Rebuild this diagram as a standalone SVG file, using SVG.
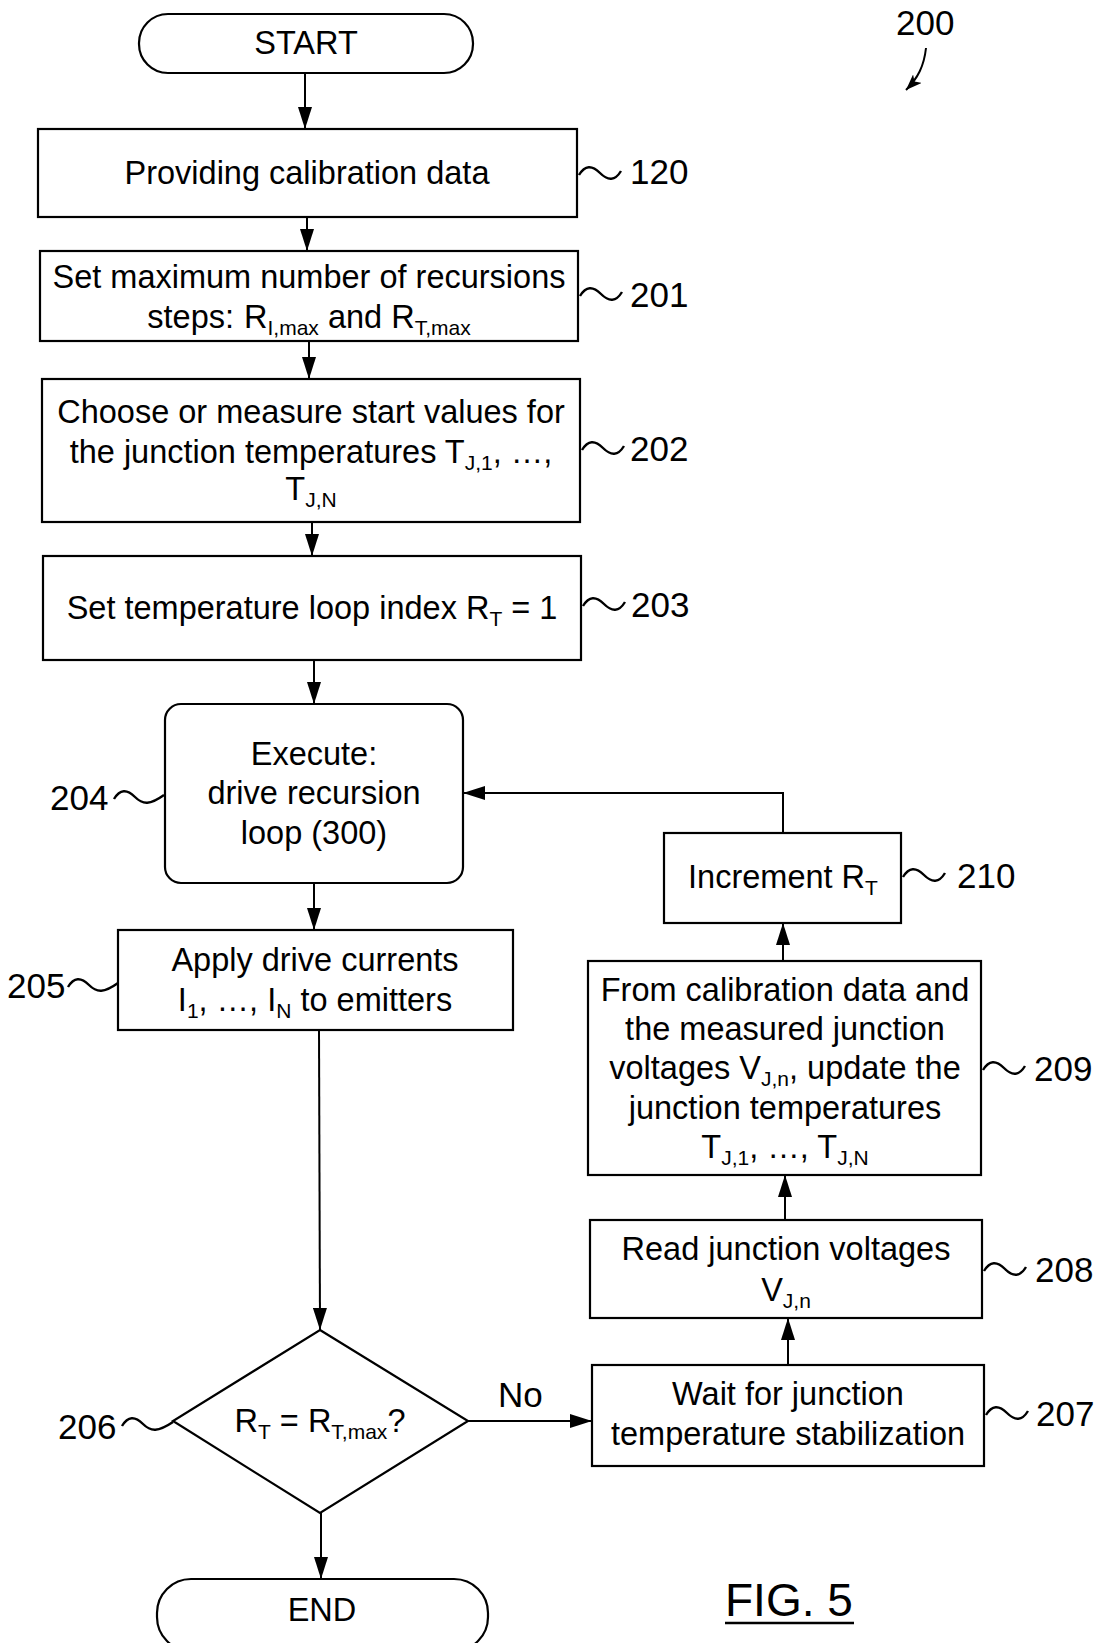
<svg xmlns="http://www.w3.org/2000/svg" width="1106" height="1643" viewBox="0 0 1106 1643">
<defs>
<marker id="ah" markerWidth="22" markerHeight="14" refX="22" refY="7" orient="auto" markerUnits="userSpaceOnUse" viewBox="0 0 22 14"><path d="M0,0 L22,7 L0,14 Z" fill="#000"/></marker>
<marker id="ah2" markerWidth="16" markerHeight="12" refX="16" refY="6" orient="auto" markerUnits="userSpaceOnUse" viewBox="0 0 16 12"><path d="M0,0 L16,6 L0,12 L4,6 Z" fill="#000"/></marker>
</defs>
<style>
.b{fill:#fff;stroke:#000;stroke-width:2.2}
.t{font-family:"Liberation Sans",Arial,sans-serif;font-size:32.5px;text-anchor:middle;fill:#000}
.l{font-family:"Liberation Sans",Arial,sans-serif;font-size:35px;fill:#000}
.s{font-size:21px}
.c{fill:none;stroke:#000;stroke-width:2}
.w{fill:none;stroke:#000;stroke-width:2.4}
</style>
<rect width="1106" height="1643" fill="#fff"/>

<g id="connectors">
<line class="c" x1="305" y1="73" x2="305" y2="129" marker-end="url(#ah)"/>
<line class="c" x1="307" y1="217" x2="307" y2="251" marker-end="url(#ah)"/>
<line class="c" x1="309" y1="341" x2="309" y2="379" marker-end="url(#ah)"/>
<line class="c" x1="312" y1="522" x2="312" y2="556" marker-end="url(#ah)"/>
<line class="c" x1="314" y1="660" x2="314" y2="704" marker-end="url(#ah)"/>
<line class="c" x1="314" y1="883" x2="314" y2="930" marker-end="url(#ah)"/>
<line class="c" x1="319" y1="1030" x2="320" y2="1330" marker-end="url(#ah)"/>
<line class="c" x1="321" y1="1513" x2="321" y2="1579" marker-end="url(#ah)"/>
<line class="c" x1="468" y1="1421" x2="592" y2="1421" marker-end="url(#ah)"/>
<line class="c" x1="788" y1="1365" x2="788" y2="1318" marker-end="url(#ah)"/>
<line class="c" x1="785" y1="1220" x2="785" y2="1175" marker-end="url(#ah)"/>
<line class="c" x1="783" y1="961" x2="783" y2="923" marker-end="url(#ah)"/>
<polyline class="c" points="783,833 783,793 463,793" marker-end="url(#ah)"/>
<text class="l" x="498" y="1407">No</text>
</g>

<g id="start">
<rect class="b" x="139" y="14" width="334" height="59" rx="29"/>
<text class="t" x="306" y="54">START</text>
</g>

<g id="n120">
<rect class="b" x="38" y="129" width="539" height="88"/>
<text class="t" x="307" y="184">Providing calibration data</text>
<path class="w" d="M579,175 c6,-10 13,-10 21,-2 s15,8 21,-2"/>
<text class="l" x="630" y="184">120</text>
</g>

<g id="n201">
<rect class="b" x="40" y="251" width="538" height="90"/>
<text class="t" x="309" y="288">Set maximum number of recursions</text>
<text class="t" x="309" y="328">steps:<tspan dx="10">R</tspan><tspan class="s" dy="7">I,max</tspan><tspan dy="-7"> and R</tspan><tspan class="s" dy="7">T,max</tspan></text>
<path class="w" d="M580,296 c6,-10 13,-10 21,-2 s15,8 21,-2"/>
<text class="l" x="630" y="307">201</text>
</g>

<g id="n202">
<rect class="b" x="42" y="379" width="538" height="143"/>
<text class="t" x="311" y="423">Choose or measure start values for</text>
<text class="t" x="311" y="463">the junction temperatures T<tspan class="s" dy="7">J,1</tspan><tspan dy="-7">, …,</tspan></text>
<text class="t" x="311" y="500">T<tspan class="s" dy="7">J,N</tspan></text>
<path class="w" d="M582,450 c6,-10 13,-10 21,-2 s15,8 21,-2"/>
<text class="l" x="630" y="461">202</text>
</g>

<g id="n203">
<rect class="b" x="43" y="556" width="538" height="104"/>
<text class="t" x="312" y="619">Set temperature loop index R<tspan class="s" dy="7">T</tspan><tspan dy="-7"> = 1</tspan></text>
<path class="w" d="M583,606 c6,-10 13,-10 21,-2 s15,8 21,-2"/>
<text class="l" x="631" y="617">203</text>
</g>

<g id="n204">
<rect class="b" x="165" y="704" width="298" height="179" rx="16"/>
<text class="t" x="314" y="765">Execute:</text>
<text class="t" x="314" y="804">drive recursion</text>
<text class="t" x="314" y="844">loop (300)</text>
<path class="w" d="M114,799 c6,-10 13,-10 21,-2 s15,8 29,-2"/>
<text class="l" x="50" y="810">204</text>
</g>

<g id="n205">
<rect class="b" x="118" y="930" width="395" height="100"/>
<text class="t" x="315" y="971">Apply drive currents</text>
<text class="t" x="315" y="1011">I<tspan class="s" dy="7">1</tspan><tspan dy="-7">, …, I</tspan><tspan class="s" dy="7">N</tspan><tspan dy="-7"> to emitters</tspan></text>
<path class="w" d="M68,987 c6,-10 13,-10 21,-2 s15,8 29,-2"/>
<text class="l" x="7" y="998">205</text>
</g>

<g id="n206">
<polygon class="b" points="320,1330 468,1421 320,1513 173,1421"/>
<text class="t" x="320" y="1432">R<tspan class="s" dy="7">T</tspan><tspan dy="-7"> = R</tspan><tspan class="s" dy="7">T,max</tspan><tspan dy="-7">?</tspan></text>
<path class="w" d="M122,1426 c6,-10 13,-10 21,-2 s15,8 30,-2"/>
<text class="l" x="58" y="1439">206</text>
</g>

<g id="n207">
<rect class="b" x="592" y="1365" width="392" height="101"/>
<text class="t" x="788" y="1405">Wait for junction</text>
<text class="t" x="788" y="1445">temperature stabilization</text>
<path class="w" d="M986,1415 c6,-10 13,-10 21,-2 s15,8 21,-2"/>
<text class="l" x="1036" y="1426">207</text>
</g>

<g id="n208">
<rect class="b" x="590" y="1220" width="392" height="98"/>
<text class="t" x="786" y="1260">Read junction voltages</text>
<text class="t" x="786" y="1301">V<tspan class="s" dy="7">J,n</tspan></text>
<path class="w" d="M984,1271 c6,-10 13,-10 21,-2 s15,8 21,-2"/>
<text class="l" x="1035" y="1282">208</text>
</g>

<g id="n209">
<rect class="b" x="588" y="961" width="393" height="214"/>
<text class="t" x="785" y="1001">From calibration data and</text>
<text class="t" x="785" y="1040">the measured junction</text>
<text class="t" x="785" y="1079">voltages V<tspan class="s" dy="7">J,n</tspan><tspan dy="-7">, update the</tspan></text>
<text class="t" x="785" y="1119">junction temperatures</text>
<text class="t" x="785" y="1158">T<tspan class="s" dy="7">J,1</tspan><tspan dy="-7">, …, T</tspan><tspan class="s" dy="7">J,N</tspan></text>
<path class="w" d="M983,1070 c6,-10 13,-10 21,-2 s15,8 21,-2"/>
<text class="l" x="1034" y="1081">209</text>
</g>

<g id="n210">
<rect class="b" x="664" y="833" width="237" height="90"/>
<text class="t" x="783" y="888">Increment R<tspan class="s" dy="7">T</tspan></text>
<path class="w" d="M903,877 c6,-10 13,-10 21,-2 s15,8 21,-2"/>
<text class="l" x="957" y="888">210</text>
</g>

<g id="end">
<rect class="b" x="157" y="1579" width="331" height="72" rx="34"/>
<text class="t" x="322" y="1621">END</text>
</g>

<g id="fig">
<text class="l" x="896" y="35">200</text>
<path class="c" d="M926,48 C924,66 918,78 906,90" marker-end="url(#ah2)"/>
<text class="l" x="725" y="1616" style="font-size:46px">FIG. 5</text>
<line x1="725" y1="1623" x2="854" y2="1623" stroke="#000" stroke-width="2.5"/>
</g>
</svg>
